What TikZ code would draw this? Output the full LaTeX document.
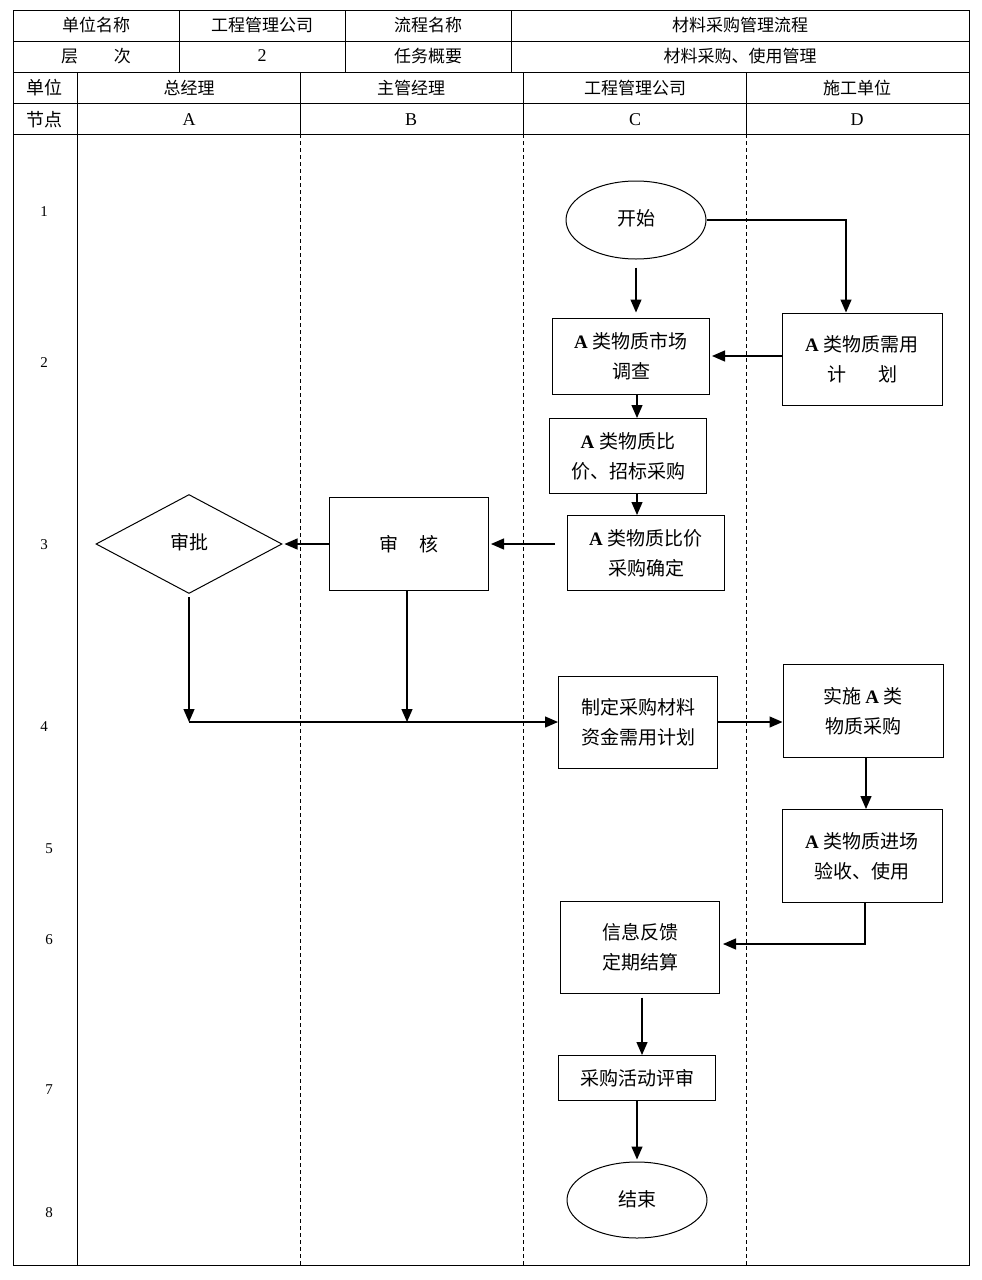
\documentclass[tikz,border=0pt]{standalone}
\usepackage{fontspec}
\setmainfont{Liberation Serif}
\newfontfamily\cjk{Noto Sans CJK SC}
\usetikzlibrary{positioning,arrows.meta,shapes.geometric}
\newcommand{\Akind}{{\rmfamily\bfseries A}\hspace{5pt}}
\tikzset{
  grid-line/.style={line width=1pt},
  lane-line/.style={dashed,dash pattern=on 4pt off 3pt,line width=0.8pt},
  head-text/.style={font=\cjk\fontsize{17}{19}\selectfont,inner sep=0pt},
  side-text/.style={font=\cjk\fontsize{18}{20}\selectfont,inner sep=0pt},
  letter-text/.style={font=\rmfamily\fontsize{18}{20}\selectfont,inner sep=0pt},
  row-num/.style={font=\rmfamily\fontsize{15}{17}\selectfont,inner sep=0pt},
  node-box/.style={draw,line width=1pt,align=center,inner sep=0pt,
    font=\cjk\fontsize{19}{30}\selectfont},
  node-term/.style={node-box,ellipse,minimum width=140pt,minimum height=78pt},
  node-check/.style={node-box,diamond,minimum width=186pt,minimum height=99pt},
  arrow/.style={-{Triangle[length=13pt,width=11pt]},line width=1.3pt},
}
\begin{document}
\begin{tikzpicture}[x=1pt,y=-1pt]
  \useasboundingbox (0,0) rectangle (982,1280);
  % table frame
  \draw[grid-line] (13,10) rectangle (969,1265);
  \foreach \y in {41,72,103,134}
    \draw[grid-line] (13,\y) -- (969,\y);
  \foreach \x in {179,345,511}
    \draw[grid-line] (\x,10) -- (\x,72);
  \draw[grid-line] (77,72) -- (77,1265);
  \foreach \x in {300,523,746} {
    \draw[grid-line] (\x,72) -- (\x,134);
    \draw[lane-line] (\x,134) -- (\x,1265);
  }
  % header texts
  \node[head-text] (h1) at (96,25) {单位名称};
  \node[head-text] (h2) at (262,25) {工程管理公司};
  \node[head-text] (h3) at (428,25) {流程名称};
  \node[head-text] (h4) at (740,25) {材料采购管理流程};
  \node[head-text] (h5) at (96,56) {层\hspace{36pt}次};
  \node[letter-text] (h6) at (262,56) {2};
  \node[head-text] (h7) at (428,56) {任务概要};
  \node[head-text] (h8) at (740,56) {材料采购、使用管理};
  \node[side-text] (u0) at (45,88) {单位};
  \node[head-text] (u1) at (189,88) {总经理};
  \node[head-text] (u2) at (411,88) {主管经理};
  \node[head-text] (u3) at (635,88) {工程管理公司};
  \node[head-text] (u4) at (857,88) {施工单位};
  \node[side-text] (k0) at (45,120) {节点};
  \node[letter-text] (k1) at (189,120) {A};
  \node[letter-text] (k2) at (411,120) {B};
  \node[letter-text] (k3) at (635,120) {C};
  \node[letter-text] (k4) at (857,120) {D};
  % row numbers
  \foreach \n/\x/\y in {1/44/212,2/44/363,3/44/545,4/44/727,
                        5/49/849,6/49/940,7/49/1090,8/49/1213}
    \node[row-num] (r\n) at (\x,\y) {\n};
  % steps
  \node[node-term] (start) at (636,220) {\raisebox{4pt}{开始}};
  \node[node-box,minimum width=157pt,minimum height=76pt] (survey) at (631,356)
    {\Akind 类物质市场\\调查};
  \node[node-box,minimum width=160pt,minimum height=92pt] (demand) at (862,359)
    {\Akind 类物质需用\\计\hspace{32pt}划};
  \node[node-box,minimum width=157pt,minimum height=75pt] (bid) at (628,456)
    {\Akind 类物质比\\价、招标采购};
  \node[node-box,minimum width=157pt,minimum height=75pt] (confirm) at (646,553)
    {\Akind 类物质比价\\采购确定};
  \node[node-box,minimum width=159pt,minimum height=93pt] (review) at (409,544)
    {\raisebox{-7pt}{审\hspace{22pt}核}};
  \node[node-check] (approve) at (189,544) {\raisebox{5pt}{审批}};
  \node[node-box,minimum width=159pt,minimum height=92pt] (plan) at (638,722)
    {制定采购材料\\资金需用计划};
  \node[node-box,minimum width=160pt,minimum height=93pt] (exec) at (863,711)
    {实施 \Akind 类\\物质采购};
  \node[node-box,minimum width=160pt,minimum height=93pt] (accept) at (862,856)
    {\Akind 类物质进场\\验收、使用};
  \node[node-box,minimum width=159pt,minimum height=92pt] (feedback) at (640,947)
    {信息反馈\\定期结算};
  \node[node-box,minimum width=157pt,minimum height=45pt] (eval) at (637,1078)
    {采购活动评审};
  \node[node-term,minimum height=76pt] (stop) at (637,1200) {\raisebox{4pt}{结束}};
  % joints
  \coordinate (c3) at (555,544);
  \coordinate (j1) at (189,722);
  \coordinate (j2) at (407,722);
  % connectors
  \draw[arrow,shorten <=8pt,shorten >=5pt] (start) -- (start |- survey.north);
  \draw[arrow] (start.east) -| ([xshift=-16pt]demand.north);
  \draw[arrow,shorten >=2pt] (demand.west |- survey.east) -- (survey.east);
  \draw[arrow] ([xshift=6pt]survey.south) -- ([xshift=6pt]survey.south |- bid.north);
  \draw[arrow] ([xshift=9pt]bid.south) -- ([xshift=9pt]bid.south |- confirm.north);
  \draw[arrow,shorten >=2pt] (c3) -- (c3 -| review.east);
  \draw[arrow,shorten >=2pt] (review.west) -- (approve.east);
  \draw[arrow,shorten <=3pt] (approve.south) -- (j1);
  \draw[arrow] (review.south -| j2) -- (j2);
  \draw[arrow] (j1) -- (plan.west);
  \draw[arrow] (plan.east) -- (plan.east -| exec.west);
  \draw[arrow] ([xshift=3pt]exec.south) -- ([xshift=3pt]exec.south |- accept.north);
  \draw[arrow,shorten >=3pt] ([xshift=3pt]accept.south) |- ([yshift=3pt]feedback.east);
  \draw[arrow,shorten <=4pt] ([xshift=2pt]feedback.south) -- ([xshift=2pt]feedback.south |- eval.north);
  \draw[arrow,shorten >=2pt] (eval.south) -- (stop.north);
\end{tikzpicture}
\end{document}
